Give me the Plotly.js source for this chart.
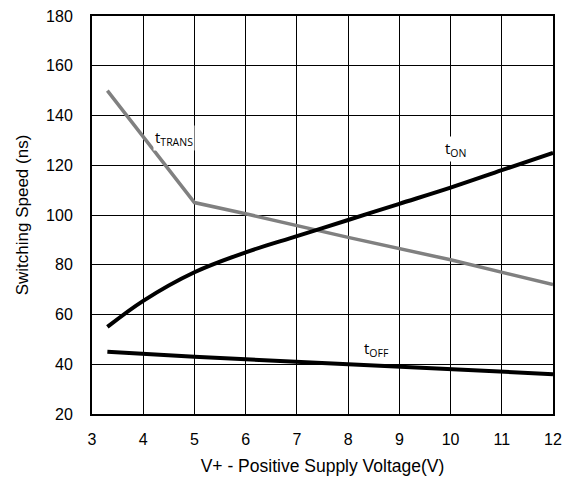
<!DOCTYPE html>
<html>
<head>
<meta charset="utf-8">
<script src="https://cdn.plot.ly/plotly-3.0.1.min.js"></script>
<style>html,body{margin:0;padding:0;background:#fff;}#chart{width:568px;height:482px;}</style>
</head>
<body>
<div id="chart"></div>
<script>
// Data
const voltage = [3.3, 4, 5, 6, 7, 8, 9, 10, 11, 12];
const tOn = [55, 65.5, 77, 85, 91.5, 98, 104.5, 111, 118, 125];
const tOffVoltage = [3.3, 5, 8, 12];
const tOff = [45, 43, 40, 36];
const tTransVoltage = [3.3, 5, 6, 8, 10, 12];
const tTrans = [150, 105, 100.5, 91, 82, 72];
const xTicks = [3, 4, 5, 6, 7, 8, 9, 10, 11, 12];
const yTicks = [20, 40, 60, 80, 100, 120, 140, 160, 180];

const traces = [
  {x: tTransVoltage, y: tTrans, mode: 'lines', line: {color: '#808080', width: 3.5}, hoverinfo: 'skip'},
  {x: voltage, y: tOn, mode: 'lines', line: {color: '#000000', width: 4, shape: 'spline'}, hoverinfo: 'skip'},
  {x: tOffVoltage, y: tOff, mode: 'lines', line: {color: '#000000', width: 4}, hoverinfo: 'skip'}
];

const labelFont = {family: 'Open Sans, Noto Sans, sans-serif', size: 15, color: '#000'};
const layout = {
  width: 568, height: 482,
  margin: {l: 92, r: 15, t: 16, b: 68},
  paper_bgcolor: '#fff', plot_bgcolor: '#fff',
  showlegend: false,
  font: {family: 'Liberation Sans, Arial, sans-serif', size: 16, color: '#000'},
  xaxis: {
    range: [3, 12], tickvals: xTicks, ticktext: xTicks.map(String),
    showgrid: true, gridcolor: '#000', gridwidth: 1,
    showline: true, linecolor: '#000', linewidth: 2, mirror: true,
    ticks: '', zeroline: false, ticklabelstandoff: 10,
    tickfont: {size: 16},
    title: {text: 'V+ - Positive Supply Voltage(V)', font: {size: 17.5}, standoff: 13}
  },
  yaxis: {
    range: [20, 180], tickvals: yTicks, ticktext: yTicks.map(String),
    showgrid: true, gridcolor: '#000', gridwidth: 1,
    showline: true, linecolor: '#000', linewidth: 2, mirror: true,
    ticks: '', zeroline: false, ticklabelstandoff: 14,
    tickfont: {size: 16},
    title: {text: 'Switching Speed (ns)', font: {size: 17}, standoff: 13}
  },
  annotations: [
    {x: 4.2, y: 131, text: 't<sub>TRANS</sub>', showarrow: false, xanchor: 'left', yanchor: 'middle', font: labelFont, bgcolor: '#fff'},
    {x: 9.85, y: 126.5, text: 't<sub>ON</sub>', showarrow: false, xanchor: 'left', yanchor: 'middle', font: labelFont, bgcolor: '#fff'},
    {x: 8.28, y: 46, text: 't<sub>OFF</sub>', showarrow: false, xanchor: 'left', yanchor: 'middle', font: labelFont, bgcolor: '#fff'}
  ]
};

Plotly.newPlot('chart', traces, layout, {staticPlot: true, displayModeBar: false});
</script>
</body>
</html>
